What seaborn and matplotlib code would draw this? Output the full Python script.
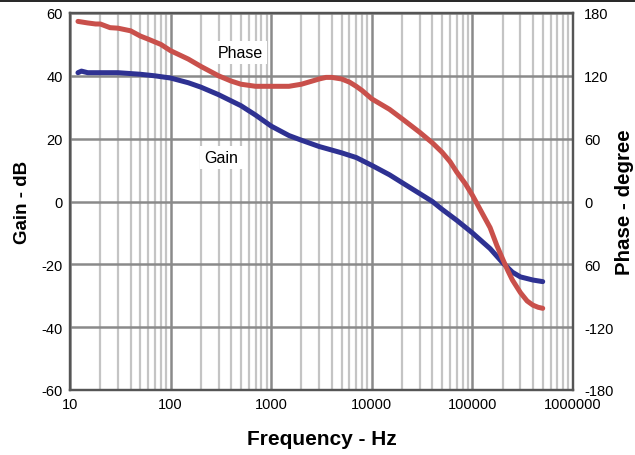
import numpy as np
import pandas as pd
import matplotlib.pyplot as plt
import matplotlib.ticker as mticker
from matplotlib.lines import Line2D
import seaborn as sns

# gain curve (dB)
gain_freq = [12, 13, 15, 20, 30, 50, 70, 100, 150, 200, 300, 500, 700, 1000, 1500,
             2000, 3000, 5000, 7000, 10000, 15000, 20000, 30000, 40000, 50000, 70000,
             100000, 150000, 200000, 250000, 300000, 400000, 500000]
gain_db = [41, 41.5, 41, 41, 41, 40.5, 40, 39.3, 37.8, 36.4, 34, 30.5, 27.5, 24, 21,
           19.5, 17.5, 15.5, 14, 11.5, 8.5, 6, 2.5, 0, -2.5, -6,
           -10, -15, -19.5, -22.5, -24, -25, -25.5]

# phase curve (degree)
phase_freq = [12, 15, 18, 20, 25, 30, 40, 50, 60, 80, 100, 150, 200, 300, 400, 500,
              700, 1000, 1500, 2000, 3000, 3500, 4000, 5000, 6000, 7000, 8000, 10000,
              15000, 20000, 30000, 40000, 50000, 60000, 70000, 85000, 100000, 120000,
              150000, 175000, 200000, 225000, 250000, 300000, 350000, 400000, 450000,
              500000]
phase_deg = [172, 170.5, 169.5, 169.5, 166, 165.5, 163, 158, 155, 150, 144, 136, 129,
             120, 115, 112, 110, 110, 110, 112, 117, 118.5, 118.5, 117, 114, 110, 106,
             98, 88, 79, 66, 56, 47, 38, 28, 17, 6, -8,
             -25, -42, -55, -66, -75, -87, -95, -99, -101,
             -102]

gain_ticks = [-60, -40, -20, 0, 20, 40, 60]
phase_ticks = [-180, -120, -60, 0, 60, 120, 180]
phase_labels = ['-180', '-120', '60', '0', '60', '120', '180']
x_ticks = [10, 100, 1000, 10000, 100000, 1000000]

gain_df = pd.DataFrame({'freq': gain_freq, 'gain': gain_db})
phase_df = pd.DataFrame({'freq': phase_freq, 'phase': phase_deg})

sns.set_style('white')
plt.rcParams['font.family'] = ['Liberation Sans', 'DejaVu Sans']

fig = plt.figure(figsize=(6.35, 4.56), dpi=100)
ax = fig.add_axes([70 / 635, 1 - 391 / 456, 503 / 635, 377 / 456])
ax2 = ax.twinx()

ax.set_xscale('log')
ax.set_xlim(10, 1e6)
ax.set_ylim(-60, 60)
ax2.set_ylim(-180, 180)

ax.xaxis.set_minor_locator(mticker.LogLocator(base=10, subs=np.arange(2, 10)))
ax.grid(True, which='minor', axis='x', color='#c4c4c4', lw=1.6)
ax.grid(True, which='major', axis='both', color='#8a8a8a', lw=1.8)
ax.set_axisbelow(True)

sns.lineplot(data=phase_df, x='freq', y='phase', ax=ax2, color='#c9504b', lw=3.6,
             solid_capstyle='round', solid_joinstyle='round')
sns.lineplot(data=gain_df, x='freq', y='gain', ax=ax, color='#2e3192', lw=3.6,
             solid_capstyle='round', solid_joinstyle='round')

ax.set_xticks(x_ticks)
ax.set_xticklabels([str(t) for t in x_ticks])
ax.set_yticks(gain_ticks)
ax.set_yticklabels([str(t) for t in gain_ticks])
ax2.set_yticks(phase_ticks)
ax2.set_yticklabels(phase_labels)
ax.tick_params(length=0, labelsize=10.5, pad=5, labelcolor='black')
ax.tick_params(axis='x', which='minor', length=0)
ax2.tick_params(length=0, labelsize=10.5, pad=8, labelcolor='black')

for a in (ax, ax2):
    for s in a.spines.values():
        s.set_color('#555555')
        s.set_linewidth(1.6)

ax.set_xlabel('Frequency - Hz', fontsize=15, fontweight='bold', labelpad=13,
              color='black')
ax.set_ylabel('Gain - dB', fontsize=13.5, fontweight='bold', labelpad=8, color='black')
ax2.set_ylabel('Phase - degree', fontsize=14.8, fontweight='bold', labelpad=1,
               color='black')

box = dict(facecolor='white', edgecolor='none', pad=3)
ax.text(490, 47.5, 'Phase', fontsize=11.5, ha='center', va='center', bbox=box,
        zorder=5, color='black')
ax.text(320, 14, 'Gain', fontsize=11.5, ha='center', va='center', bbox=box,
        zorder=5, color='black')

fig.add_artist(Line2D([0, 1], [1 - 1.5 / 456, 1 - 1.5 / 456], color='black', lw=1.2,
                      transform=fig.transFigure))

fig.savefig('out.png', dpi=100)
